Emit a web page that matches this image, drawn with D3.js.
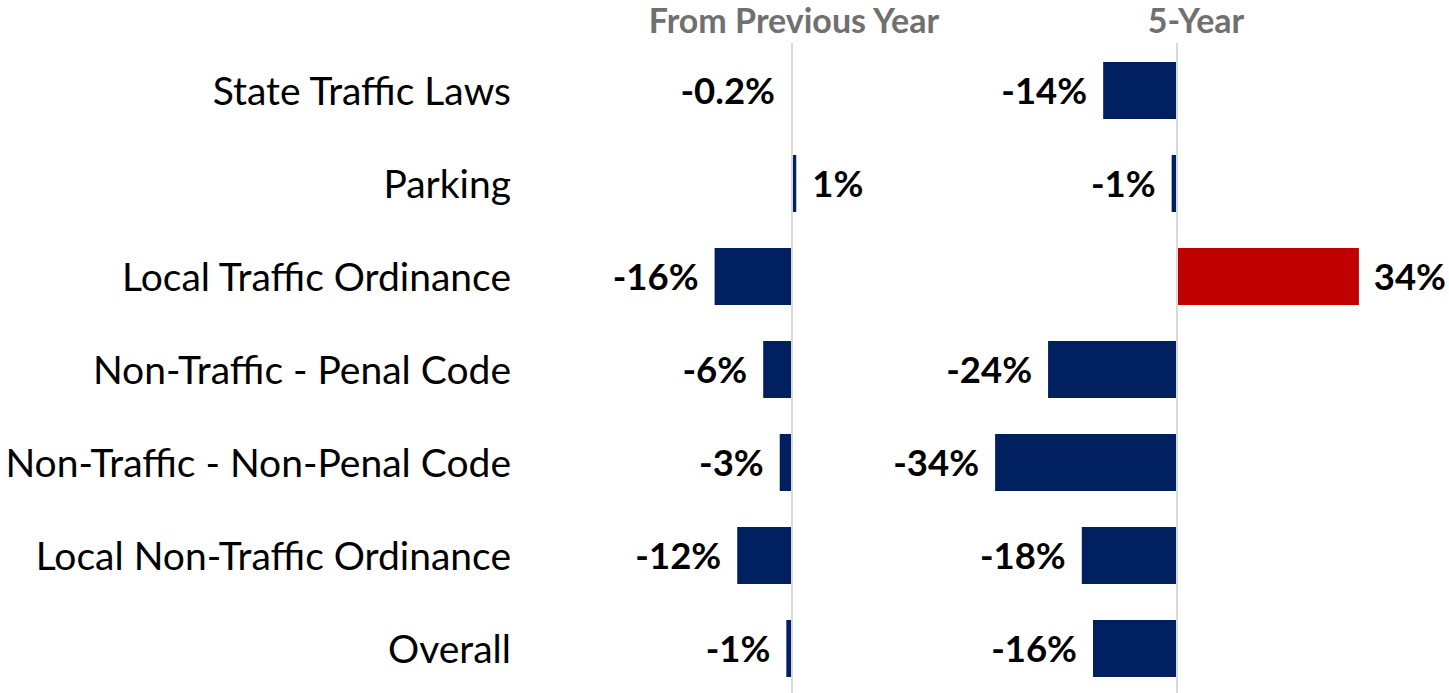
<!DOCTYPE html>
<html>
<head>
<meta charset="utf-8">
<script src="https://cdn.jsdelivr.net/npm/d3@7"></script>
<style>
  html, body { margin: 0; padding: 0; background: #fff; }
  svg { display: block; }
  text { font-family: Lato, "Open Sans", sans-serif; }
</style>
</head>
<body>
<svg id="chart" width="1449" height="693"></svg>
<script>
// Citation categories, top to bottom
const categories = [
  "State Traffic Laws",
  "Parking",
  "Local Traffic Ordinance",
  "Non-Traffic - Penal Code",
  "Non-Traffic - Non-Penal Code",
  "Local Non-Traffic Ordinance",
  "Overall"
];

// Percent change from the previous year
const changePrevYear = [-0.2, 0.9, -16.4, -6.1, -2.6, -11.6, -1.2];
// Labels shown for the previous-year change
const labelsPrevYear = ["-0.2%", "1%", "-16%", "-6%", "-3%", "-12%", "-1%"];

// Percent change over five years
const change5Year = [-13.8, -1.0, 34.0, -24.1, -34.0, -17.8, -15.7];
const labels5Year = ["-14%", "-1%", "34%", "-24%", "-34%", "-18%", "-16%"];

const panelTitles = ["From Previous Year", "5-Year"];

const W = 1449, H = 693;
const NAVY = "#002060", RED = "#C00000", AXIS = "#D9D9D9";

const svg = d3.select("#chart");

const y = d3.scaleBand()
  .domain(categories)
  .range([44, 695])
  .paddingInner(0.387)
  .paddingOuter(0.1935);

// Each panel has its own horizontal scale, zero aligned to its axis line
const xPrev = d3.scaleLinear().domain([-20, 20]).range([792 - 20 * 4.72, 792 + 20 * 4.72]);
const x5 = d3.scaleLinear().domain([-40, 40]).range([1177 - 40 * 5.35, 1177 + 40 * 5.35]);

// Category labels
svg.append("g").selectAll("text")
  .data(categories)
  .join("text")
  .attr("x", 511)
  .attr("y", d => y(d) + y.bandwidth() / 2)
  .attr("dy", "0.36em")
  .attr("text-anchor", "end")
  .attr("font-size", 39)
  .attr("fill", "#000")
  .text(d => d);

function drawPanel(x, values, labels, title, titleX, posColor) {
  const g = svg.append("g");
  const rows = categories.map((c, i) => ({ c, v: values[i], label: labels[i] }));

  g.selectAll("rect")
    .data(rows)
    .join("rect")
    .attr("x", d => Math.min(x(0), x(d.v)))
    .attr("y", d => y(d.c))
    .attr("width", d => Math.abs(x(d.v) - x(0)))
    .attr("height", y.bandwidth())
    .attr("fill", d => d.v > 10 ? posColor : NAVY);

  // zero line
  g.append("line")
    .attr("x1", x(0)).attr("x2", x(0))
    .attr("y1", 43).attr("y2", H)
    .attr("stroke", AXIS)
    .attr("stroke-width", 2);

  const lbl = g.selectAll("text.val")
    .data(rows)
    .join("text")
    .attr("class", "val")
    .attr("y", d => y(d.c) + y.bandwidth() / 2)
    .attr("dy", "0.36em")
    .attr("font-size", 36.5)
    .attr("font-weight", 700)
    .attr("fill", "#000")
    .attr("text-anchor", d => d.v < 0 ? "end" : "start")
    .text(d => d.label);

  lbl.attr("x", function(d) {
    if (d.v < 0) return x(Math.min(d.v, 0)) - 16;
    const w = this.getComputedTextLength();
    return Math.min(x(d.v) + 16, W - w - 3);
  });

  g.append("text")
    .attr("x", titleX)
    .attr("y", 33)
    .attr("text-anchor", "middle")
    .attr("font-size", 34)
    .attr("font-weight", 700)
    .attr("fill", "#707070")
    .text(title);
}

drawPanel(xPrev, changePrevYear, labelsPrevYear, panelTitles[0], 794, RED);
drawPanel(x5, change5Year, labels5Year, panelTitles[1], 1196, RED);
</script>
</body>
</html>
